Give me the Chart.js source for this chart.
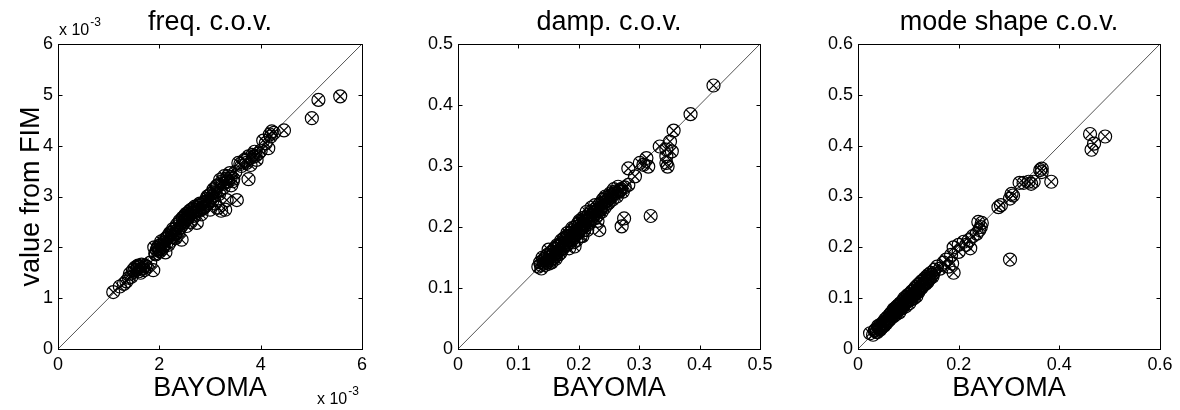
<!DOCTYPE html>
<html><head><meta charset="utf-8">
<script src="https://cdn.jsdelivr.net/npm/chart.js@4.4.0/dist/chart.umd.min.js"></script>
<style>
body{margin:0;background:#fff;width:1180px;height:410px;position:relative;overflow:hidden;font-family:"Liberation Sans",Arial,sans-serif}
.p{position:absolute;top:0;height:410px}
</style></head><body>
<div class="p" style="left:0;width:400px"><canvas id="c1"></canvas></div>
<div class="p" style="left:400px;width:390px"><canvas id="c2"></canvas></div>
<div class="p" style="left:790px;width:390px"><canvas id="c3"></canvas></div>
<script>
// ---- data (freq panel values in units of 1e-3) ----
const freqBayoma = [1.09,1.22,1.30,1.35,1.40,1.45,1.48,1.52,1.55,1.58,1.61,1.63,1.66,1.70,1.75,1.88,1.82,1.92,1.95,1.98,2.01,2.03,2.06,2.10,2.12,2.15,2.18,2.20,2.22,2.25,2.28,2.30,2.32,2.35,2.38,2.40,2.42,2.44,2.46,2.48,2.50,2.52,2.54,2.56,2.58,2.60,2.62,2.64,2.66,2.68,2.70,2.72,2.74,2.76,2.78,2.80,2.83,2.85,2.88,2.90,2.93,2.96,2.98,3.00,3.02,3.05,3.08,3.10,3.13,3.16,3.18,3.20,3.22,3.25,3.28,3.30,3.32,3.33,3.36,3.39,3.42,3.46,3.53,3.56,3.62,3.68,3.72,3.76,3.76,3.80,3.84,3.88,3.92,3.96,4.05,4.15,4.18,4.22,4.26,4.46,5.01,5.14,5.57,
  1.42,1.50,1.57,1.60,1.65,1.68,1.72,1.90,1.93,1.97,2.00,2.04,2.08,2.11,2.14,2.17,2.21,2.24,2.27,2.31,2.34,2.37,2.41,2.45,2.47,2.51,2.53,2.57,2.61,2.63,2.67,2.71,2.75,2.79,2.82,2.86,2.91,2.95,2.99,3.04,3.07,3.11,3.15,3.19,3.24,3.27,3.31,3.35,3.41,3.45,3.50,3.60,3.70,3.86,3.90,4.00,4.10,4.20];
const freqFim    = [1.12,1.23,1.28,1.33,1.40,1.42,1.55,1.60,1.56,1.64,1.62,1.50,1.58,1.55,1.62,1.55,1.70,1.88,1.95,2.02,1.92,2.05,1.97,2.10,1.90,2.18,2.05,2.25,2.12,2.30,2.20,2.35,2.18,2.45,2.30,2.52,2.40,2.15,2.58,2.48,2.62,2.55,2.42,2.66,2.60,2.72,2.50,2.68,2.76,2.62,2.80,2.70,2.48,2.82,2.75,2.86,2.65,2.78,2.88,2.80,2.95,2.86,3.02,2.74,3.05,2.92,3.10,2.86,3.20,2.78,3.05,3.33,2.72,3.25,3.40,2.74,3.35,2.93,3.30,3.46,3.22,3.35,2.93,3.66,3.60,3.72,3.66,3.79,3.34,3.62,3.82,3.88,3.72,3.85,4.10,3.95,4.22,4.28,4.25,4.30,4.54,4.90,4.97,
  1.48,1.52,1.62,1.53,1.66,1.60,1.64,2.00,1.86,1.98,1.96,2.12,2.02,2.16,2.08,2.22,2.28,2.20,2.36,2.26,2.40,2.34,2.48,2.44,2.56,2.52,2.66,2.58,2.64,2.74,2.70,2.66,2.78,2.72,2.84,2.76,2.90,3.00,2.92,3.00,3.14,3.08,3.22,3.12,3.30,3.18,3.28,3.40,3.38,3.30,3.48,3.64,3.70,3.78,3.80,3.90,4.05,4.18];

const dampBayoma = [0.133,0.136,0.138,0.140,0.142,0.145,0.146,0.148,0.150,0.151,0.152,0.154,0.155,0.157,0.158,0.160,0.161,0.162,0.164,0.165,0.167,0.168,0.170,0.171,0.172,0.174,0.175,0.176,0.178,0.179,0.180,0.181,0.182,0.184,0.185,0.186,0.188,0.189,0.190,0.191,0.192,0.193,0.194,0.195,0.196,0.198,0.199,0.200,0.201,0.202,0.203,0.204,0.206,0.207,0.208,0.209,0.210,0.212,0.213,0.214,0.216,0.217,0.218,0.220,0.221,0.222,0.224,0.225,0.227,0.228,0.230,0.231,0.232,0.234,0.235,0.236,0.238,0.240,0.241,0.243,0.244,0.246,0.248,0.250,0.252,0.253,0.256,0.258,0.260,0.263,0.265,0.268,0.270,0.273,0.276,0.282,0.282,0.293,0.301,0.307,0.312,0.315,0.271,0.275,0.319,0.334,0.345,0.354,0.345,0.345,0.347,0.351,0.357,0.385,0.423,
  0.137,0.141,0.144,0.147,0.149,0.153,0.156,0.159,0.163,0.166,0.169,0.173,0.177,0.180,0.183,0.187,0.190,0.193,0.197,0.200,0.203,0.205,0.209,0.211,0.215,0.219,0.223,0.226,0.229,0.233,0.237,0.239,0.242,0.245,0.249,0.251,0.255,0.259,0.262,0.267];
const dampFim    = [0.135,0.142,0.132,0.150,0.140,0.138,0.152,0.145,0.163,0.140,0.150,0.158,0.142,0.148,0.155,0.165,0.152,0.148,0.170,0.160,0.155,0.170,0.158,0.178,0.175,0.165,0.168,0.182,0.180,0.170,0.172,0.190,0.185,0.165,0.178,0.190,0.180,0.198,0.195,0.175,0.185,0.168,0.200,0.190,0.178,0.205,0.195,0.192,0.210,0.208,0.185,0.198,0.185,0.215,0.212,0.195,0.202,0.215,0.225,0.195,0.220,0.205,0.208,0.225,0.232,0.212,0.218,0.228,0.236,0.215,0.232,0.210,0.220,0.195,0.238,0.228,0.225,0.245,0.235,0.232,0.250,0.248,0.238,0.240,0.255,0.252,0.245,0.262,0.258,0.250,0.266,0.260,0.262,0.258,0.265,0.269,0.296,0.283,0.305,0.302,0.313,0.299,0.201,0.214,0.218,0.332,0.327,0.324,0.316,0.305,0.299,0.340,0.358,0.385,0.432,
  0.138,0.145,0.148,0.142,0.155,0.145,0.160,0.150,0.158,0.168,0.162,0.172,0.174,0.185,0.178,0.186,0.185,0.192,0.188,0.202,0.198,0.205,0.205,0.210,0.210,0.218,0.220,0.225,0.226,0.228,0.232,0.240,0.240,0.242,0.245,0.248,0.250,0.255,0.256,0.258];

const modeBayoma = [0.024,0.030,0.035,0.038,0.040,0.042,0.045,0.047,0.050,0.052,0.054,0.056,0.058,0.060,0.062,0.063,0.065,0.066,0.068,0.070,0.071,0.072,0.074,0.075,0.077,0.078,0.080,0.081,0.082,0.084,0.085,0.087,0.088,0.090,0.091,0.092,0.094,0.095,0.096,0.098,0.099,0.100,0.102,0.103,0.104,0.106,0.107,0.108,0.110,0.111,0.112,0.114,0.115,0.116,0.118,0.119,0.120,0.122,0.123,0.125,0.126,0.128,0.130,0.132,0.134,0.136,0.138,0.140,0.142,0.145,0.148,0.150,0.152,0.157,0.163,0.170,0.175,0.180,0.187,0.190,0.185,0.190,0.200,0.200,0.210,0.215,0.220,0.223,0.228,0.236,0.241,0.239,0.246,0.244,0.279,0.284,0.302,0.308,0.305,0.321,0.329,0.339,0.349,0.344,0.365,0.365,0.362,0.384,0.302,0.461,0.491,0.469,0.464,
  0.033,0.037,0.041,0.044,0.048,0.051,0.053,0.057,0.059,0.061,0.064,0.067,0.069,0.073,0.076,0.079,0.083,0.086,0.089,0.093,0.097,0.101,0.105,0.109,0.113,0.117,0.121,0.124,0.127,0.131,0.135,0.139,0.144,0.147];
const modeFim    = [0.031,0.028,0.038,0.033,0.045,0.040,0.048,0.042,0.052,0.046,0.058,0.050,0.062,0.055,0.066,0.058,0.070,0.062,0.072,0.064,0.078,0.070,0.080,0.068,0.083,0.075,0.086,0.078,0.072,0.090,0.082,0.092,0.080,0.095,0.086,0.100,0.090,0.084,0.102,0.094,0.106,0.098,0.090,0.108,0.102,0.112,0.098,0.114,0.106,0.100,0.118,0.110,0.122,0.104,0.115,0.126,0.112,0.128,0.118,0.132,0.120,0.134,0.126,0.138,0.128,0.142,0.132,0.146,0.138,0.150,0.142,0.149,0.156,0.162,0.158,0.170,0.176,0.162,0.168,0.150,0.185,0.200,0.191,0.205,0.211,0.205,0.214,0.198,0.222,0.227,0.234,0.250,0.248,0.240,0.279,0.283,0.296,0.302,0.305,0.327,0.327,0.329,0.329,0.325,0.355,0.348,0.352,0.329,0.176,0.423,0.418,0.404,0.392,
  0.036,0.034,0.042,0.038,0.046,0.050,0.048,0.054,0.056,0.060,0.060,0.066,0.068,0.074,0.072,0.080,0.078,0.088,0.084,0.092,0.096,0.096,0.104,0.104,0.110,0.112,0.118,0.122,0.124,0.130,0.132,0.138,0.140,0.146];

const freqTicksX = [0,2,4,6], freqTicksY = [0,1,2,3,4,5,6];
const dampTicks = [0,0.1,0.2,0.3,0.4,0.5];
const modeTicksX = [0,0.2,0.4,0.6], modeTicksY = [0,0.1,0.2,0.3,0.4,0.5,0.6];
const titles = ['freq. c.o.v.','damp. c.o.v.','mode shape c.o.v.'];
const xLabel = 'BAYOMA', yLabel = 'value from FIM';

const FONT = '"Liberation Sans", Arial, sans-serif';

const boxTicks = {
  id:'boxTicks',
  afterDraw(chart, args, opts){
    const {ctx, chartArea:a, scales:{x,y}} = chart;
    ctx.save();
    ctx.strokeStyle='#000'; ctx.lineWidth=1;
    const L=Math.round(a.left)+0.5, R=Math.round(a.right)+0.5, T=Math.round(a.top)+0.5, B=Math.round(a.bottom)+0.5;
    ctx.beginPath(); ctx.rect(L,T,R-L,B-T);
    x.ticks.forEach(t=>{const p=Math.round(x.getPixelForValue(t.value))+0.5; ctx.moveTo(p,B); ctx.lineTo(p,B-4); ctx.moveTo(p,T); ctx.lineTo(p,T+4);});
    y.ticks.forEach(t=>{const p=Math.round(y.getPixelForValue(t.value))+0.5; ctx.moveTo(L,p); ctx.lineTo(L+4,p); ctx.moveTo(R,p); ctx.lineTo(R-4,p);});
    ctx.stroke();
    ctx.fillStyle='#000';
    // panel title, centred over the plot box
    ctx.font='27px '+FONT; ctx.textAlign='center'; ctx.textBaseline='alphabetic';
    ctx.fillText(opts.title, (a.left+a.right)/2, 30);
    if (opts.exp){
      ctx.textAlign='left';
      const draw=(x0,y0)=>{ctx.font='16px '+FONT; ctx.fillText('x 10',x0,y0); const w=ctx.measureText('x 10').width; ctx.font='12px '+FONT; ctx.fillText('-3',x0+w+1,y0-9);};
      draw(a.left+1, a.top-9);
      draw(a.right-45, 404);
    }
    ctx.restore();
  }
};

function makeChart(id, bay, fim, ticksX, ticksY, maxV, title, yTitle, yW, padR, exp){
  const pts = bay.map((v,i)=>({x:v,y:fim[i]}));
  const fmt = v => String(Math.round(v*1000)/1000);
  new Chart(document.getElementById(id), {
    type:'scatter',
    data:{datasets:[
      {type:'line', data:[{x:0,y:0},{x:maxV,y:maxV}], borderColor:'#555', borderWidth:1, pointRadius:0, fill:false, order:3},
      {data:pts, pointStyle:'circle', pointRadius:6.5, borderColor:'#000', backgroundColor:'rgba(0,0,0,0)', borderWidth:1.2, order:2},
      {data:pts, pointStyle:'crossRot', pointRadius:6.5, borderColor:'#000', backgroundColor:'rgba(0,0,0,0)', borderWidth:1.2, order:1}
    ]},
    options:{
      responsive:true, maintainAspectRatio:false, animation:false,
      layout:{padding:{left:0,right:padR,top:44,bottom:0}},
      plugins:{legend:{display:false}, tooltip:{enabled:false}, title:{display:false},
        boxTicks:{exp:exp, title:title}},
      scales:{
        x:{type:'linear', min:0, max:maxV,
          afterBuildTicks:s=>{s.ticks=ticksX.map(v=>({value:v}));},
          afterFit:s=>{s.height=61;},
          grid:{display:true, drawOnChartArea:false, drawTicks:false, color:'#000'},
          border:{display:true,color:'#000',width:1},
          ticks:{color:'#000', font:{family:FONT,size:18}, padding:5, maxRotation:0, autoSkip:false, callback:fmt},
          title:{display:true, text:xLabel, color:'#000', font:{family:FONT,size:27}, padding:{top:0,bottom:5}}},
        y:{type:'linear', min:0, max:maxV,
          afterBuildTicks:s=>{s.ticks=ticksY.map(v=>({value:v}));},
          afterFit:s=>{s.width=yW;},
          grid:{display:true, drawOnChartArea:false, drawTicks:false, color:'#000'},
          border:{display:true,color:'#000',width:1},
          ticks:{color:'#000', font:{family:FONT,size:18}, padding:5, autoSkip:false, callback:fmt},
          title:{display:yTitle!=='', text:yTitle, color:'#000', font:{family:FONT,size:27}, padding:{top:15,bottom:0}}}
      }
    },
    plugins:[boxTicks]
  });
}

makeChart('c1', freqBayoma, freqFim, freqTicksX, freqTicksY, 6, titles[0], yLabel, 58, 38, true);
makeChart('c2', dampBayoma, dampFim, dampTicks, dampTicks, 0.5, titles[1], '', 58, 30, false);
makeChart('c3', modeBayoma, modeFim, modeTicksX, modeTicksY, 0.6, titles[2], '', 68, 20, false);
</script>
</body></html>
